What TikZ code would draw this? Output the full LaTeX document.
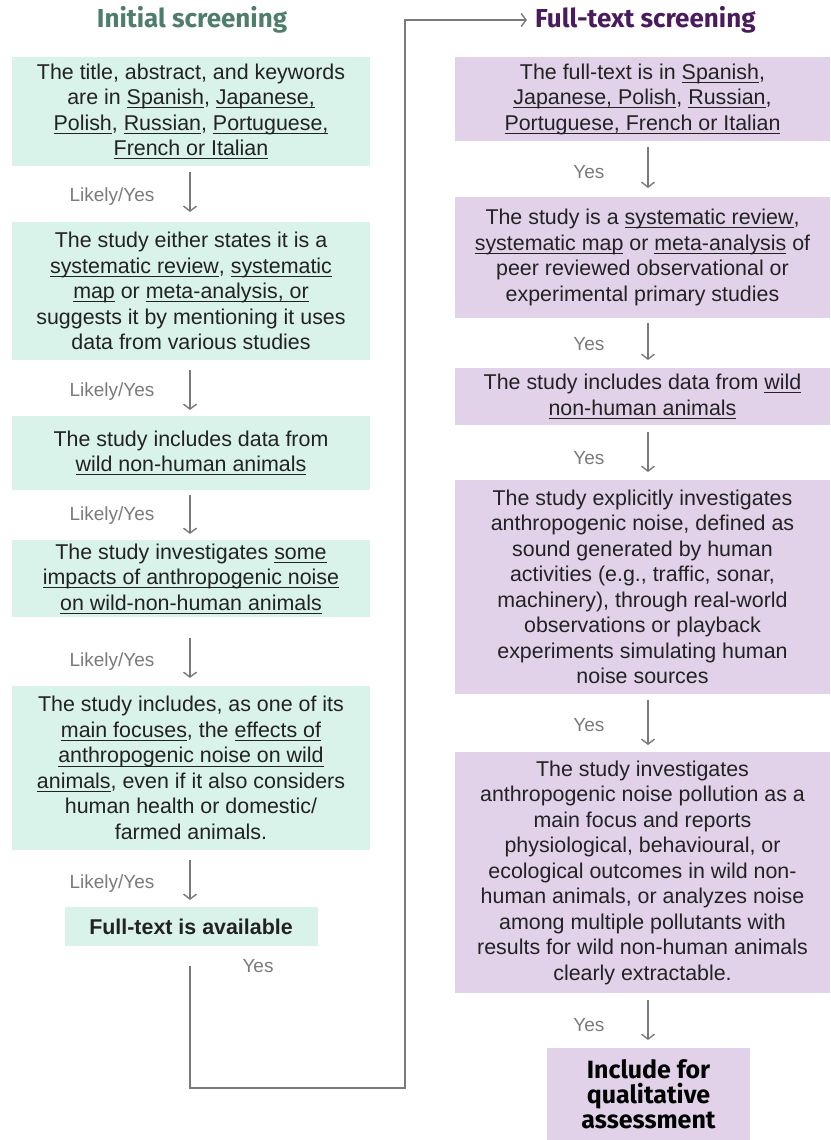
\documentclass[tikz,border=0pt]{standalone}
\usepackage{fontspec}
\setmainfont{Liberation Sans}
\newfontfamily\headfont{Fira Sans}
\usetikzlibrary{arrows.meta}
\definecolor{screengreen}{HTML}{D9F2EA}
\definecolor{screenpurple}{HTML}{E1D2EA}
\definecolor{headgreen}{HTML}{4E7D6B}
\definecolor{headpurple}{HTML}{4A1C5E}
\definecolor{flowgray}{HTML}{7A7A7A}
\definecolor{textdark}{HTML}{222222}
\newcommand{\undl}[1]{\setbox0\hbox{#1}\rlap{\rule[-3.5pt]{\wd0}{0.9pt}}\box0\relax}
\tikzset{
  initbox/.style={fill=screengreen, text=textdark, align=center, inner sep=0pt, minimum width=358pt, font=\fontsize{21.4}{25.5}\selectfont},
  fullbox/.style={fill=screenpurple, text=textdark, align=center, inner sep=0pt, minimum width=375pt, font=\fontsize{21.4}{25.5}\selectfont},
  answer/.style={text=flowgray, anchor=east, font=\fontsize{19}{22}\selectfont},
  flowline/.style={flowgray, line width=1.4pt, -{Straight Barb[length=5pt,width=13pt]}},
  heading/.style={inner ysep=0pt, inner xsep=8pt, font=\headfont\bfseries\fontsize{26}{30}\selectfont}
}
\begin{document}
\begin{tikzpicture}[x=1pt, y=-1pt]
			%%%%% START %%%%%
			\useasboundingbox (0, 0) rectangle (830, 1140);
			
			\node[heading, text=headgreen] (inithead) at (192, 20) {Initial screening};
			\node[heading, text=headpurple, anchor=west] (fullhead) at (527, 20) {Full-text screening};
			
			% initial screening
			\node[initbox, minimum height=109pt] (init1) at (191, 111.5)
			  {The title, abstract, and keywords\\ are in \undl{Spanish}, \undl{Japanese,}\\ \undl{Polish}, \undl{Russian}, \undl{Portuguese,}\\ \undl{French or Italian}};
			\node[initbox, minimum height=138pt] (init2) at (191, 291)
			  {The study either states it is a\\ \undl{systematic review}, \undl{systematic}\\ \undl{map} or \undl{meta-analysis, or}\\ suggests it by mentioning it uses\\ data from various studies};
			\node[initbox, minimum height=74pt] (init3) at (191, 453)
			  {The study includes data from\\ \undl{wild non-human animals}};
			\node[initbox, minimum height=77pt] (init4) at (191, 578.5)
			  {The study investigates \undl{some}\\ \undl{impacts of anthropogenic noise}\\ \undl{on wild-non-human animals}};
			\node[initbox, minimum height=164pt] (init5) at (191, 768)
			  {The study includes, as one of its\\ \undl{main focuses}, the \undl{effects of}\\ \undl{anthropogenic noise on wild}\\ \undl{animals}, even if it also considers\\ human health or domestic/\\ farmed animals.};
			\node[initbox, minimum width=253pt, minimum height=39pt, font=\bfseries\fontsize{21.4}{25}\selectfont] (init6) at (191, 926.5)
			  {Full-text is available};
			
			\draw[flowline] (190, 172) -- (190, 212);
			\node[answer] (ans1) at (158, 197) {Likely/Yes};
			\draw[flowline] (190, 370) -- (190, 410);
			\node[answer] (ans2) at (158, 392) {Likely/Yes};
			\draw[flowline] (190, 495) -- (190, 534);
			\node[answer] (ans3) at (158, 516) {Likely/Yes};
			\draw[flowline] (190, 638) -- (190, 678);
			\node[answer] (ans4) at (158, 662) {Likely/Yes};
			\draw[flowline] (190, 860) -- (190, 900);
			\node[answer] (ans5) at (158, 884) {Likely/Yes};
			
			% link to full-text screening
			\coordinate (linkstart) at (190, 966);
			\node[answer, anchor=center] (ans6) at (258, 966) {Yes};
			\draw[flowline] (linkstart) |- (405, 1088) -- (405, 20) -- (fullhead.west);
			
			% full-text screening
			\node[fullbox, minimum height=84pt] (full1) at (642.5, 99)
			  {The full-text is in \undl{Spanish},\\ \undl{Japanese, Polish}, \undl{Russian},\\ \undl{Portuguese, French or Italian}};
			\node[fullbox, minimum height=121pt] (full2) at (642.5, 257.5)
			  {The study is a \undl{systematic review},\\ \undl{systematic map} or \undl{meta-analysis} of\\ peer reviewed observational or\\ experimental primary studies};
			\node[fullbox, minimum height=57pt] (full3) at (642.5, 396.5)
			  {The study includes data from \undl{wild}\\ \undl{non-human animals}};
			\node[fullbox, minimum height=214pt] (full4) at (642.5, 587)
			  {The study explicitly investigates\\ anthropogenic noise, defined as\\ sound generated by human\\ activities (e.g., traffic, sonar,\\ machinery), through real-world\\ observations or playback\\ experiments simulating human\\ noise sources};
			\node[fullbox, minimum height=241pt] (full5) at (642.5, 872.5)
			  {The study investigates\\ anthropogenic noise pollution as a\\ main focus and reports\\ physiological, behavioural, or\\ ecological outcomes in wild non-\\ human animals, or analyzes noise\\ among multiple pollutants with\\ results for wild non-human animals\\ clearly extractable.};
			\node[fullbox, minimum width=203pt, minimum height=92pt, font=\headfont\bfseries\fontsize{25}{25}\selectfont, text=black] (full6) at (648.5, 1094)
			  {Include for\\ qualitative\\ assessment};
			
			\draw[flowline] (648, 147) -- (648, 188);
			\node[answer] (yes1) at (608, 172) {Yes};
			\draw[flowline] (648, 323) -- (648, 360);
			\node[answer] (yes2) at (608, 344) {Yes};
			\draw[flowline] (648, 432) -- (648, 472);
			\node[answer] (yes3) at (608, 458) {Yes};
			\draw[flowline] (648, 700) -- (648, 745);
			\node[answer] (yes4) at (608, 725) {Yes};
			\draw[flowline] (648, 1000) -- (648, 1040);
			\node[answer] (yes5) at (608, 1025) {Yes};
			%%%%% END %%%%%
\end{tikzpicture}
\end{document}
